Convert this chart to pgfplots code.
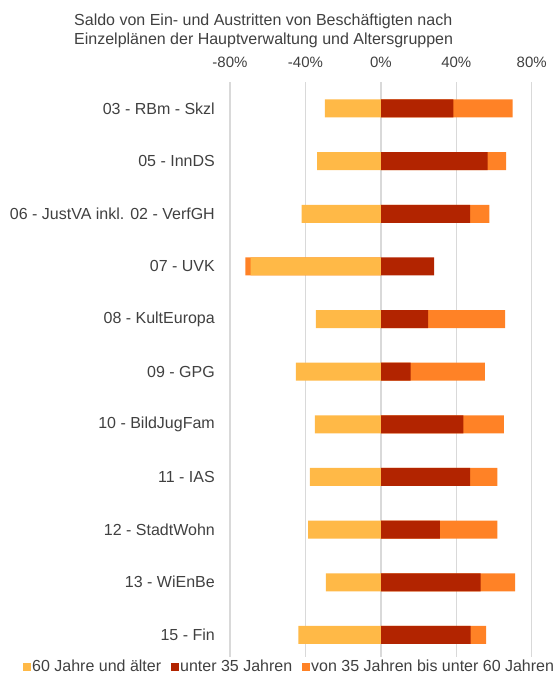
\documentclass[border=0pt]{standalone}
\usepackage{fontspec}
\setmainfont{Liberation Sans}
\usepackage{pgfplots}
\usepackage{pgfplotstable}
\pgfplotsset{compat=1.18}
\definecolor{cold}{HTML}{FFB947}
\definecolor{cyoung}{HTML}{B22400}
\definecolor{cmid}{HTML}{FF8226}
\definecolor{cgrid}{HTML}{D9D9D9}
\definecolor{ctext}{HTML}{404040}
\pgfplotstableread{
idx old young mid midend
0 -29.7 38.4 31.5 69.9
1 -33.8 56.6 9.8 66.4
2 -42.0 47.3 10.2 57.5
3 -69.0 28.3 -2.9 -71.9
4 -34.5 25.1 40.8 65.9
5 -45.0 15.8 39.4 55.2
6 -35.0 43.7 21.6 65.3
7 -37.7 47.3 14.5 61.8
8 -38.6 31.3 30.5 61.8
9 -29.2 52.9 18.3 71.2
10 -43.7 47.6 8.2 55.8
}\datatab
\begin{document}
\begin{tikzpicture}[x=1pt,y=1pt]
\path[use as bounding box] (0,0) rectangle (558,-675);
\node[anchor=base west, text=ctext, font=\fontsize{16}{18}\selectfont, inner sep=0pt] at (74,-25) {Saldo von Ein- und Austritten von Beschäftigten nach};
\node[anchor=base west, text=ctext, font=\fontsize{16}{18}\selectfont, inner sep=0pt] at (74,-44) {Einzelplänen der Hauptverwaltung und Altersgruppen};
\begin{axis}[
  at={(230pt,-657pt)}, anchor=south west,
  scale only axis, width=301.7pt, height=575pt,
  xmin=-80, xmax=80,
  ymin=-0.503, ymax=10.42,
  y dir=reverse,
  axis line style={draw=none},
  major tick length=0pt,
  xtick={-80,-40,0,40,80},
  xticklabels={-80\%,-40\%,0\%,40\%,80\%},
  xticklabel pos=upper,
  xticklabel style={anchor=south, inner sep=0pt, yshift=14pt, text=ctext, font=\fontsize{15}{18}\selectfont},
  ytick={0,...,10},
  yticklabels={03 - RBm - Skzl,05 - InnDS,06 - JustVA inkl. 02 - VerfGH,07 - UVK,08 - KultEuropa,09 - GPG,10 - BildJugFam,11 - IAS,12 - StadtWohn,13 - WiEnBe,15 - Fin},
  yticklabel style={anchor=east, inner sep=0pt, xshift=-15pt, text=ctext, font=\fontsize{16}{18}\selectfont},
  xmajorgrids, ymajorgrids=false,
  grid style={draw=cgrid, line width=1.3pt},
  legend columns=3,
  legend style={at={(0.196,-0.0165)}, anchor=center, draw=none, fill=none,
    font=\fontsize{16}{18}\selectfont, text=ctext, inner sep=0pt,
    /tikz/every even column/.append style={column sep=9pt},
    nodes={inner sep=1pt}},
  legend image code/.code={\fill (0pt,-4pt) rectangle (8pt,4pt);},
]
\addlegendimage{fill=cold, draw=none}
\addlegendentry{60 Jahre und älter}
\addlegendimage{fill=cyoung, draw=none}
\addlegendentry{unter 35 Jahren}
\addlegendimage{fill=cmid, draw=none}
\addlegendentry{von 35 Jahren bis unter 60 Jahren}
\addplot[forget plot, xbar, bar shift=0pt, bar width=18pt, fill=cmid, draw=none] table[x=midend, y=idx] {\datatab};
\addplot[forget plot, xbar, bar shift=0pt, bar width=18pt, fill=cyoung, draw=none] table[x=young, y=idx] {\datatab};
\addplot[forget plot, xbar, bar shift=0pt, bar width=18pt, fill=cold, draw=none] table[x=old, y=idx] {\datatab};
\end{axis}
\end{tikzpicture}
\end{document}
